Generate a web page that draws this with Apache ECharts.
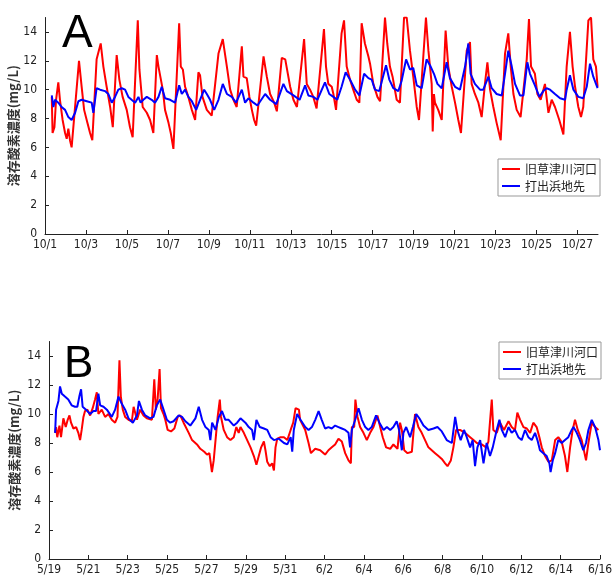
<!DOCTYPE html>
<html><head><meta charset="utf-8">
<script src="https://cdn.jsdelivr.net/npm/echarts@6/dist/echarts.min.js"></script>
<style>html,body{margin:0;padding:0;background:#fff}#c{width:614px;height:577px}</style>
</head><body><div id="c"></div>
<script>
// time axis in days since start of each panel
const aDates = ['10/1','10/3','10/5','10/7','10/9','10/11','10/13','10/15','10/17','10/19','10/21','10/23','10/25','10/27'];
const bDates = ['5/19','5/21','5/23','5/25','5/27','5/29','5/31','6/2','6/4','6/6','6/8','6/10','6/12','6/14','6/16'];
const yTicks = [0,2,4,6,8,10,12,14];
const seriesNames = ['旧草津川河口','打出浜地先'];
const yName = '溶存酸素濃度(mg/L)';

const aRed = [[0.33,9.5],[0.37,7.0],[0.46,7.4],[0.54,9.3],[0.65,10.5],[0.73,9.3],[0.86,7.9],[0.98,7.0],[1.06,6.6],[1.14,7.3],[1.22,6.5],[1.30,6.0],
[1.66,12.0],[1.79,10.2],[1.91,8.6],[2.07,7.7],[2.20,7.0],[2.31,6.5],
[2.52,12.1],[2.72,13.2],[2.85,11.6],[3.01,10.2],[3.18,8.8],[3.31,7.4],
[3.50,12.4],[3.63,10.7],[3.79,9.5],[3.99,8.6],[4.15,7.4],[4.28,6.7],
[4.53,14.8],[4.61,11.4],[4.67,11.5],[4.77,8.8],[4.97,8.4],[5.13,7.9],[5.29,7.0],
[5.46,12.4],[5.54,11.6],[5.62,11.7],[5.75,10.0],[5.86,8.6],[6.03,7.7],[6.14,7.0],[6.27,5.9],
[6.55,14.6],[6.63,11.6],[6.73,11.4],[6.84,10.2],[7.00,9.5],[7.17,8.6],[7.33,7.9],
[7.49,11.2],[7.57,11.0],[7.69,9.5],[7.90,8.6],[8.14,8.2],
[8.47,12.5],[8.68,13.5],[8.88,11.6],[9.04,10.0],[9.20,9.3],[9.36,8.8],
[9.61,13.0],[9.69,10.9],[9.85,10.8],[9.98,9.5],[10.10,8.6],[10.21,7.9],[10.31,7.5],
[10.67,12.3],[10.83,10.9],[10.99,9.7],[11.19,9.1],[11.32,8.5],
[11.56,12.2],[11.73,12.1],[11.97,10.2],[12.13,9.3],[12.30,8.8],
[12.65,13.5],[12.78,10.4],[12.94,10.0],[13.10,9.5],[13.26,8.7],
[13.62,14.2],[13.72,11.6],[13.83,10.4],[14.00,10.2],[14.08,9.7],[14.21,8.6],
[14.48,13.9],[14.60,14.8],[14.73,11.6],[14.89,10.7],[15.05,10.0],[15.22,9.3],[15.35,9.1],
[15.46,14.6],[15.62,13.2],[15.79,12.3],[15.87,11.8],[16.03,10.4],[16.23,9.5],[16.36,9.2],
[16.60,15.0],[16.71,13.2],[16.84,11.6],[16.97,10.9],[17.17,9.3],[17.33,9.1],
[17.53,15.0],[17.66,15.0],[17.82,12.7],[17.98,10.9],[18.15,8.8],[18.26,7.9],
[18.60,15.0],[18.72,12.7],[18.88,10.4],[18.93,7.1],[18.99,9.7],[19.04,9.1],[19.20,8.6],[19.37,7.9],
[19.56,14.1],[19.69,11.6],[19.86,10.2],[20.02,9.1],[20.18,7.9],[20.31,7.0],
[20.59,12.7],[20.75,13.3],[20.83,10.4],[20.99,9.7],[21.16,9.1],[21.32,8.1],
[21.48,10.4],[21.60,11.9],[21.73,10.0],[21.89,8.8],[22.05,7.7],[22.25,6.5],
[22.46,12.5],[22.62,13.9],[22.74,11.6],[22.87,9.7],[23.03,8.6],[23.22,8.1],
[23.52,12.1],[23.63,14.9],[23.73,11.6],[23.92,11.1],[24.04,9.7],[24.20,9.3],[24.41,10.4],[24.58,8.4],[24.74,9.3],[24.90,8.8],[25.11,7.9],[25.31,6.9],
[25.47,11.6],[25.63,14.0],[25.76,11.6],[25.88,10.2],[26.04,8.8],[26.17,8.1],[26.28,8.8],
[26.53,14.8],[26.66,15.0],[26.77,12.1],[26.90,11.6],[26.98,10.2]];

const aBlue = [[0.33,9.6],[0.41,8.8],[0.49,9.3],[0.65,9.1],[0.81,8.8],[0.98,8.6],[1.14,8.1],[1.30,7.9],[1.47,8.4],[1.63,9.2],[1.79,9.3],[2.04,9.2],[2.28,9.1],[2.36,8.4],
[2.52,10.1],[2.69,10.0],[2.93,9.9],[3.09,9.7],[3.26,9.1],[3.42,9.5],[3.58,10.0],[3.75,10.1],[3.91,10.0],[4.07,9.5],[4.23,9.3],[4.40,9.1],[4.56,9.5],[4.67,9.1],[4.80,9.3],[4.97,9.5],
[5.21,9.3],[5.37,9.1],[5.54,9.5],[5.70,10.2],[5.86,9.4],[6.11,9.3],[6.35,9.1],[6.55,10.3],[6.68,9.7],[6.84,10.0],[7.00,9.5],[7.17,9.2],[7.38,8.6],[7.57,9.3],[7.77,10.0],[7.90,9.7],
[8.06,9.3],[8.26,8.6],[8.47,9.3],[8.68,10.4],[8.88,9.7],[9.12,9.5],[9.33,9.1],[9.61,10.0],[9.77,9.1],[9.93,9.4],[10.18,9.1],[10.37,8.9],[10.75,9.7],[10.99,9.3],[11.29,9.0],
[11.64,10.4],[11.81,9.9],[12.13,9.6],[12.43,9.3],[12.70,10.3],[12.86,9.6],[13.10,9.5],[13.30,9.3],[13.67,10.5],[13.88,9.7],[14.08,9.5],[14.27,9.3],[14.48,10.2],[14.68,11.2],
[14.89,10.7],[15.14,10.0],[15.35,9.6],[15.58,11.1],[15.79,10.8],[15.95,10.7],[16.11,10.0],[16.32,9.9],[16.65,11.7],[16.81,10.7],[17.01,10.1],[17.25,9.9],[17.41,10.6],[17.63,12.1],
[17.82,11.4],[17.98,11.5],[18.15,10.3],[18.39,10.1],[18.63,12.1],[18.83,11.6],[18.99,11.1],[19.16,10.4],[19.37,10.1],[19.61,11.9],[19.77,10.8],[20.02,10.2],[20.26,10.0],
[20.51,11.6],[20.67,13.2],[20.78,11.1],[20.99,10.4],[21.24,10.0],[21.40,10.0],[21.65,10.9],[21.81,10.1],[22.05,9.7],[22.30,9.6],[22.46,11.1],[22.62,12.7],[22.79,11.6],
[22.95,10.4],[23.19,9.6],[23.36,9.6],[23.55,11.9],[23.68,11.1],[23.92,10.3],[24.14,9.5],[24.33,9.9],[24.49,10.1],[24.66,10.0],[24.90,9.7],[25.15,9.4],[25.39,9.3],[25.47,10.0],
[25.63,11.0],[25.80,10.0],[26.04,9.5],[26.28,9.4],[26.45,10.2],[26.61,11.8],[26.77,10.9],[26.98,10.1]];

const bRed = [[0.31,8.7],[0.36,9.1],[0.42,8.4],[0.53,9.2],[0.61,8.4],[0.73,9.7],[0.85,9.1],[0.95,9.6],[1.04,9.9],[1.12,9.4],[1.24,9.0],[1.38,9.1],[1.49,8.7],[1.58,8.2],[1.66,8.9],
[1.75,9.8],[1.83,10.2],[1.95,10.3],[2.09,9.9],[2.22,10.4],[2.34,11.0],[2.43,11.5],[2.51,10.0],[2.68,10.3],[2.85,9.8],[3.02,10.0],[3.19,9.6],[3.36,9.4],[3.48,9.8],[3.58,13.7],
[3.65,11.2],[3.75,10.3],[3.87,9.8],[4.04,9.6],[4.21,9.5],[4.30,10.5],[4.47,9.6],[4.63,10.3],[4.80,9.9],[4.97,9.7],[5.23,9.6],[5.35,12.4],[5.43,10.3],[5.52,11.0],[5.62,13.1],
[5.69,10.4],[5.82,10.0],[5.91,9.6],[6.03,8.9],[6.20,8.8],[6.37,9.0],[6.54,9.8],[6.67,9.9],[6.84,9.4],[7.10,8.7],[7.27,8.2],[7.52,7.9],[7.69,7.6],[7.89,7.4],[8.03,7.2],[8.15,7.3],
[8.28,6.0],[8.37,6.8],[8.51,8.9],[8.57,9.8],[8.68,11.0],[8.74,9.8],[8.88,8.9],[9.05,8.4],[9.22,8.2],[9.39,8.4],[9.52,9.1],[9.64,8.7],[9.73,9.1],[9.90,8.7],[10.07,8.2],[10.24,7.7],
[10.41,7.1],[10.54,6.5],[10.66,7.1],[10.78,7.7],[10.92,8.1],[11.00,7.5],[11.09,6.7],[11.22,6.4],[11.34,6.6],[11.43,6.1],[11.51,7.7],[11.60,8.3],[11.77,8.4],[11.94,8.4],[12.11,8.2],
[12.28,8.9],[12.41,9.4],[12.53,10.4],[12.70,10.3],[12.76,9.6],[13.02,8.9],[13.19,8.0],[13.31,7.3],[13.53,7.6],[13.78,7.5],[14.03,7.2],[14.20,7.5],[14.37,7.7],[14.54,7.9],[14.71,8.3],
[14.88,8.1],[15.05,7.3],[15.22,6.8],[15.34,6.6],[15.39,9.1],[15.51,9.1],[15.57,11.0],[15.68,9.8],[15.81,9.1],[15.98,8.7],[16.15,8.2],[16.32,8.7],[16.49,9.1],[16.69,9.9],[16.83,9.1],
[16.96,8.4],[17.13,7.7],[17.34,7.6],[17.50,7.9],[17.71,7.6],[17.84,9.4],[17.93,8.9],[18.05,7.5],[18.22,7.3],[18.44,7.4],[18.60,10.0],[18.77,9.1],[18.94,8.7],[19.11,8.2],[19.28,7.7],
[19.45,7.5],[19.62,7.3],[19.79,7.1],[19.96,6.9],[20.13,6.6],[20.25,6.4],[20.42,6.8],[20.55,7.7],[20.69,8.9],[20.89,8.9],[21.14,8.7],[21.40,8.4],[21.57,8.2],[21.74,8.0],[21.99,7.9],
[22.21,7.7],[22.33,8.1],[22.41,8.2],[22.50,11.0],[22.58,8.9],[22.75,8.7],[22.92,9.4],[23.12,8.9],[23.35,9.5],[23.51,9.1],[23.68,8.9],[23.80,10.1],[23.94,9.6],[24.11,9.1],[24.28,9.0],
[24.45,8.7],[24.61,9.4],[24.78,9.1],[24.92,8.4],[25.04,7.7],[25.21,7.1],[25.38,6.7],[25.55,6.8],[25.72,8.2],[25.88,8.4],[26.05,8.1],[26.22,7.1],[26.34,6.0],[26.48,7.7],[26.61,8.9],
[26.73,9.6],[26.87,8.9],[27.07,8.2],[27.29,6.8],[27.41,8.0],[27.58,9.4],[27.75,9.1],[27.92,8.9]];

const bBlue = [[0.31,8.7],[0.36,10.3],[0.48,10.9],[0.56,11.9],[0.65,11.4],[0.81,11.2],[0.98,11.0],[1.15,10.6],[1.32,10.5],[1.44,10.5],[1.54,11.2],[1.63,11.7],[1.71,10.5],[1.88,10.3],
[2.09,10.0],[2.26,10.2],[2.39,10.2],[2.51,11.4],[2.60,10.6],[2.77,10.5],[2.94,10.3],[3.19,9.8],[3.36,10.3],[3.53,11.2],[3.70,10.7],[3.87,10.3],[4.04,9.7],[4.26,9.4],[4.47,9.9],
[4.57,10.9],[4.72,10.3],[4.89,9.9],[5.14,9.7],[5.31,9.8],[5.48,10.6],[5.65,11.0],[5.82,10.3],[5.99,9.6],[6.16,9.4],[6.33,9.5],[6.59,9.9],[6.76,9.8],[6.93,9.5],[7.18,9.2],[7.44,9.7],
[7.61,10.5],[7.78,9.6],[7.95,9.1],[8.12,8.9],[8.20,8.2],[8.29,9.4],[8.46,8.9],[8.63,9.8],[8.79,10.2],[8.96,9.6],[9.13,9.6],[9.39,9.2],[9.56,9.4],[9.73,9.7],[9.98,9.4],[10.15,9.1],
[10.32,8.9],[10.41,8.2],[10.54,9.6],[10.71,9.1],[10.92,9.0],[11.09,8.9],[11.26,8.4],[11.43,8.2],[11.68,8.3],[11.94,8.0],[12.11,7.9],[12.28,8.4],[12.36,7.4],[12.44,8.9],[12.61,10.0],
[12.78,9.6],[13.02,9.1],[13.19,8.9],[13.36,9.1],[13.53,9.6],[13.70,10.2],[13.86,9.6],[14.03,9.0],[14.20,9.1],[14.37,9.0],[14.54,9.2],[14.71,9.1],[14.88,9.0],[15.05,8.9],[15.22,8.7],
[15.30,7.7],[15.39,8.9],[15.56,9.6],[15.73,10.4],[15.90,9.6],[16.07,9.1],[16.23,8.9],[16.40,9.1],[16.62,9.9],[16.79,9.4],[17.00,8.9],[17.17,9.1],[17.34,8.9],[17.50,9.1],[17.67,9.5],
[17.79,8.9],[17.93,7.5],[18.01,8.7],[18.15,9.1],[18.35,8.4],[18.49,9.1],[18.66,10.0],[18.82,9.7],[19.03,9.2],[19.28,8.9],[19.54,9.0],[19.74,9.1],[19.96,8.8],[20.21,8.2],[20.47,8.0],
[20.64,9.8],[20.75,8.9],[20.92,8.2],[21.09,8.9],[21.23,8.4],[21.40,7.7],[21.53,8.2],[21.65,6.4],[21.77,7.7],[21.91,8.2],[22.08,6.6],[22.24,8.0],[22.41,7.1],[22.55,7.7],[22.75,8.9],
[22.89,9.6],[23.01,8.9],[23.18,8.4],[23.35,9.1],[23.51,8.7],[23.68,8.9],[23.85,8.4],[24.02,8.2],[24.19,8.9],[24.36,8.4],[24.53,8.2],[24.70,8.7],[24.82,8.2],[24.95,7.5],[25.12,7.3],
[25.29,7.1],[25.43,6.6],[25.49,6.0],[25.60,6.8],[25.72,7.3],[25.88,8.2],[26.05,8.0],[26.22,8.2],[26.39,8.4],[26.56,8.9],[26.65,9.1],[26.82,8.7],[26.98,8.2],[27.15,7.5],[27.29,8.0],
[27.41,8.9],[27.58,9.6],[27.75,9.1],[27.92,8.2],[28.00,7.5]];

const RED = '#ff0000', BLUE = '#0000ff';
const numFont = "'DejaVu Sans Condensed','Liberation Sans Narrow','Liberation Sans',sans-serif";
const jpFont = "'Noto Sans CJK JP','Noto Sans CJK SC',sans-serif";
const axisCol = '#222';

function xAxisDef(idx, maxDays, dates){
  const vals = dates.map((d,i)=>i*2);
  return {
    type:'value', gridIndex: idx, min:0, max:maxDays, interval:2,
    axisLine:{show:true, onZero:false, lineStyle:{color:axisCol, width:1}},
    axisTick:{show:true, inside:true, length:4, customValues: vals, lineStyle:{color:axisCol}},
    axisLabel:{show:true, customValues: vals, margin:5, color:'#222', fontSize:12, fontFamily:numFont,
      formatter: v => dates[Math.round(v/2)] || ''},
    splitLine:{show:false}
  };
}
function yAxisDef(idx, gap){
  return {
    type:'value', gridIndex: idx, min:0, max:15, interval:2,
    name: yName, nameLocation:'middle', nameGap: gap, nameRotate: 90, nameMoveOverlap:false,
    nameTextStyle:{fontSize:13, fontWeight:'bold', color:'#333', fontFamily:jpFont},
    axisLine:{show:true, lineStyle:{color:axisCol, width:1}},
    axisTick:{show:true, inside:true, length:4, customValues: yTicks, lineStyle:{color:axisCol}},
    axisLabel:{show:true, customValues: yTicks, margin:8, color:'#222', fontSize:12, fontFamily:numFont},
    splitLine:{show:false}
  };
}
function legendDef(left, top){
  return {
    orient:'vertical', left:left, top:top, itemWidth:18, itemHeight:2, itemGap:3, icon:'rect',
    padding:[3,3,3,4], borderColor:'#999', borderWidth:1, backgroundColor:'#fff',
    textStyle:{fontSize:12, color:'#222', fontFamily:jpFont, lineHeight:14},
    data: seriesNames
  };
}
function lineSeries(name, color, xi, data){
  return {type:'line', name:name, xAxisIndex:xi, yAxisIndex:xi, data:data, symbol:'none',
    lineStyle:{color:color, width:2}, itemStyle:{color:color}, animation:false, clip:true};
}

const chart = echarts.init(document.getElementById('c'), null, {renderer:'canvas'});
chart.setOption({
  animation:false,
  backgroundColor:'#fff',
  grid:[
    {left:45, top:17.5, right:16, bottom:343, outerBoundsMode:'none', containLabel:false},
    {left:49, top:341.5, right:14, bottom:18, outerBoundsMode:'none', containLabel:false}
  ],
  xAxis:[xAxisDef(0, 27, aDates), xAxisDef(1, 28, bDates)],
  yAxis:[yAxisDef(0, 25), yAxisDef(1, 28)],
  legend:[legendDef(498,159), legendDef(499,342)],
  graphic:[
    {type:'text', left:62, top:11, style:{text:'A', fontSize:46, fontFamily:"'Liberation Sans',Arial,sans-serif", fill:'#000'}},
    {type:'text', left:64, top:343, style:{text:'B', fontSize:44, fontFamily:"'Liberation Sans',Arial,sans-serif", fill:'#000'}}
  ],
  series:[
    lineSeries(seriesNames[0], RED, 0, aRed),
    lineSeries(seriesNames[1], BLUE, 0, aBlue),
    lineSeries(seriesNames[0], RED, 1, bRed),
    lineSeries(seriesNames[1], BLUE, 1, bBlue)
  ]
});
</script></body></html>
